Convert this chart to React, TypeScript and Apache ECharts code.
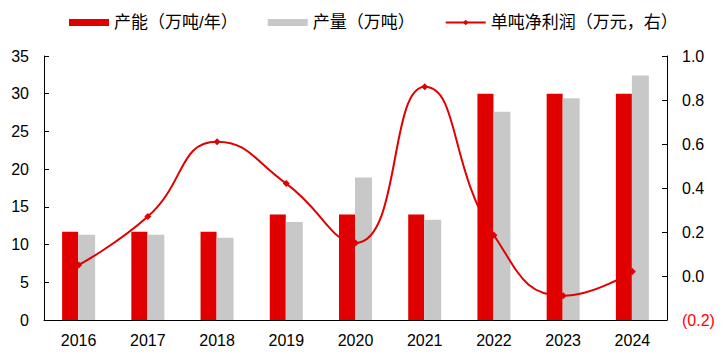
import React, { useEffect, useRef } from "react";
import * as echarts from "echarts";

const categories = ["2016", "2017", "2018", "2019", "2020", "2021", "2022", "2023", "2024"];
const capacity = [11.7, 11.7, 11.7, 14, 14, 14, 30, 30, 30];
const output = [11.3, 11.3, 10.9, 13.0, 18.9, 13.3, 27.6, 29.4, 32.4];
const profit = [0.05, 0.27, 0.61, 0.42, 0.15, 0.86, 0.185, -0.09, 0.02];

const FONT = "'Liberation Sans', Arial, 'Noto Sans CJK SC', sans-serif";

export default function App() {
  const ref = useRef<HTMLDivElement>(null);
  useEffect(() => {
    if (!ref.current) return;
    const chart = echarts.init(ref.current, null, { renderer: "svg" });
    chart.setOption({
      animation: false,
      textStyle: { fontFamily: FONT },
      legend: {
        top: 1,
        left: 56,
        itemWidth: 40,
        itemHeight: 7,
        itemGap: 30,
        textStyle: { fontSize: 17, color: "#000", fontFamily: FONT },
        data: [
          { name: "产能（万吨/年）", icon: "rect" },
          { name: "产量（万吨）", icon: "rect" },
          { name: "单吨净利润（万元，右）" },
        ],
      },
      grid: { left: 36, right: 53, top: 48, bottom: 27 },
      xAxis: {
        type: "category",
        data: categories,
        boundaryGap: true,
        axisLine: { lineStyle: { color: "#000", width: 1 } },
        axisTick: { inside: true, length: 5, lineStyle: { color: "#000" } },
        axisLabel: { fontSize: 16, color: "#000", margin: 12, fontFamily: FONT },
      },
      yAxis: [
        {
          type: "value",
          min: 0,
          max: 35,
          interval: 5,
          splitLine: { show: false },
          axisLine: { show: true, lineStyle: { color: "#000" } },
          axisTick: { show: true, inside: true, length: 5, lineStyle: { color: "#000" } },
          axisLabel: { fontSize: 16, color: "#000", margin: 15, fontFamily: FONT },
        },
        {
          type: "value",
          min: -0.2,
          max: 1.0,
          interval: 0.2,
          position: "right",
          splitLine: { show: false },
          axisLine: { show: true, lineStyle: { color: "#000" } },
          axisTick: { show: true, inside: true, length: 5, lineStyle: { color: "#000" } },
          axisLabel: {
            fontSize: 16,
            color: "#000",
            margin: 15,
            fontFamily: FONT,
            formatter: (v: number) => {
              const r = Math.round(v * 10) / 10;
              if (r < 0) return "{neg|(" + Math.abs(r).toFixed(1) + ")}";
              return r.toFixed(1);
            },
            rich: { neg: { color: "#ff0000", fontSize: 16, fontFamily: FONT } },
          },
        },
      ],
      series: [
        {
          name: "产能（万吨/年）",
          type: "bar",
          data: capacity,
          barWidth: 16,
          barGap: "0%",
          itemStyle: { color: "#e00000" },
        },
        {
          name: "产量（万吨）",
          type: "bar",
          data: output,
          barWidth: 17,
          barGap: "0%",
          itemStyle: { color: "#c8c8c8" },
        },
        {
          name: "单吨净利润（万元，右）",
          type: "line",
          yAxisIndex: 1,
          data: profit,
          smooth: true,
          symbol: "diamond",
          symbolSize: 7,
          z: 5,
          lineStyle: { color: "#e00000", width: 2 },
          itemStyle: { color: "#e00000" },
        },
      ],
    });
    return () => chart.dispose();
  }, []);
  return <div ref={ref} style={{ width: 712, height: 340 }} />;
}
